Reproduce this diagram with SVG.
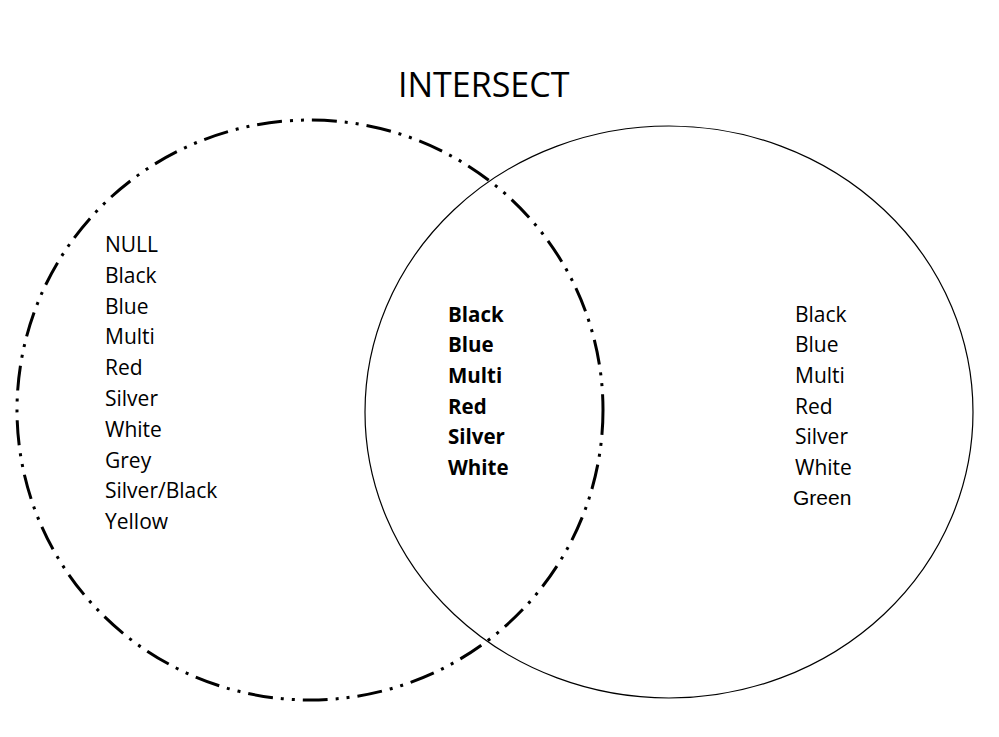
<svg xmlns="http://www.w3.org/2000/svg" width="999" height="737" viewBox="0 0 999 737">
<style>
.t{font-family:"Open Sans","Noto Sans",sans-serif;font-size:21px;fill:#000}
.b{font-weight:bold;font-size:20.5px}
.a{font-family:"Liberation Sans",Arial,sans-serif;font-size:21px;fill:#000}
.title{font-family:"Open Sans","Noto Sans",sans-serif;font-size:34px;fill:#000}
</style>
<rect width="999" height="737" fill="#fff"/>
<text class="title" x="398" y="97">INTERSECT</text>
<g id="setA">
<ellipse cx="310" cy="410" rx="293" ry="290" fill="none" stroke="#000" stroke-width="3" stroke-dasharray="25 8 3 8 3 8"/>
<text class="t" x="105" y="252">NULL</text>
<text class="t" x="105" y="283">Black</text>
<text class="t" x="105" y="314">Blue</text>
<text class="t" x="105" y="344">Multi</text>
<text class="t" x="105" y="375">Red</text>
<text class="t" x="105" y="406">Silver</text>
<text class="t" x="105" y="437">White</text>
<text class="t" x="105" y="468">Grey</text>
<text class="t" x="105" y="498">Silver/Black</text>
<text class="t" x="105" y="529">Yellow</text>
</g>
<g id="setB">
<ellipse cx="669" cy="412" rx="304" ry="286" fill="none" stroke="#000" stroke-width="1.2"/>
<text class="t" x="795" y="322">Black</text>
<text class="t" x="795" y="352">Blue</text>
<text class="t" x="795" y="383">Multi</text>
<text class="t" x="795" y="414">Red</text>
<text class="t" x="795" y="444">Silver</text>
<text class="t" x="795" y="475">White</text>
<text class="a" x="793" y="505">Green</text>
</g>
<g id="intersection">
<text class="t b" x="448" y="322">Black</text>
<text class="t b" x="448" y="352">Blue</text>
<text class="t b" x="448" y="383">Multi</text>
<text class="t b" x="448" y="414">Red</text>
<text class="t b" x="448" y="444">Silver</text>
<text class="t b" x="448" y="475">White</text>
</g>
<g id="connectors"></g>
</svg>
